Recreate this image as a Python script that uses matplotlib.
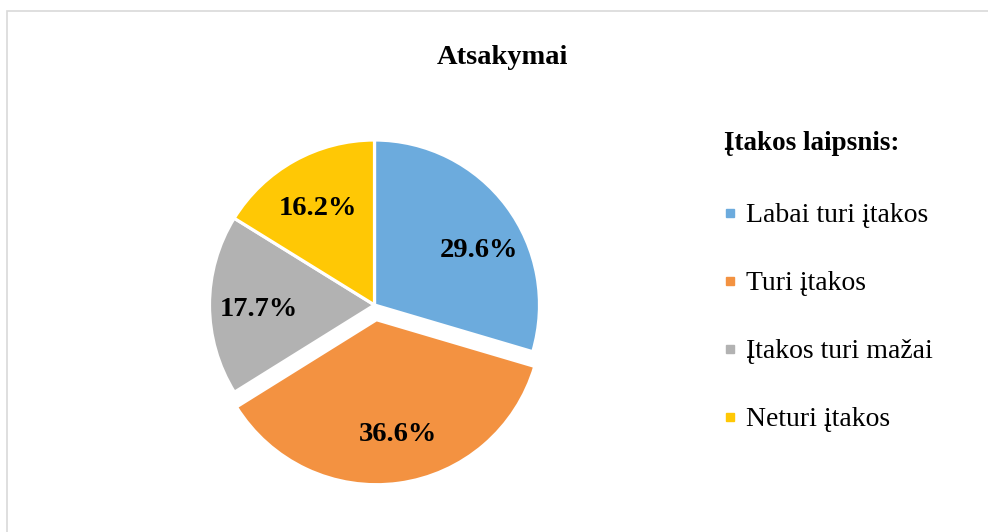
import matplotlib
matplotlib.use("Agg")
import matplotlib.pyplot as plt
from matplotlib.lines import Line2D
from matplotlib.patches import Rectangle

title = "Atsakymai"
legend_title = "Įtakos laipsnis:"
categories = ["Labai turi įtakos", "Turi įtakos", "Įtakos turi mažai", "Neturi įtakos"]
values = [29.6, 36.6, 17.7, 16.2]
colors = ["#6CABDD", "#F39241", "#B2B2B2", "#FFC805"]
explode = [0, 0.09, 0, 0]

plt.rcParams['font.family'] = ['Liberation Serif', 'DejaVu Serif']

W, H = 988, 532
fig = plt.figure(figsize=(W / 100, H / 100), dpi=100)
fig.patch.set_facecolor("white")

# outer border (chart area), extends beyond right/bottom edges
fig.add_artist(Rectangle((7 / W, -0.1), 1.2, (H - 11) / H + 0.1, transform=fig.transFigure,
                         fill=False, edgecolor="#D9D9D9", linewidth=1.2))

R = 165
cx, cy = 374.5, H - 305
side = 2.4 * R
ax = fig.add_axes([(cx - side / 2) / W, (cy - side / 2) / H, side / W, side / H])
wedges, texts, autotexts = ax.pie(values, colors=colors, explode=explode, startangle=90,
                                  counterclock=False, autopct="%.1f%%", pctdistance=0.7,
                                  wedgeprops=dict(edgecolor="white", linewidth=2.3),
                                  textprops=dict(fontsize=20.5, fontweight="bold", color="black"))
ax.set_xlim(-1.2, 1.2)
ax.set_ylim(-1.2, 1.2)
ax.set_aspect("equal")
# Excel best-fit placement of labels (slight nudges)
autotexts[0].set_position((0.63, 0.33))
x, y = autotexts[1].get_position()
autotexts[1].set_position((x + 0.035, y))
for t in autotexts[2:]:
    x, y = t.get_position()
    t.set_position((x, y - 0.025))

fig.text(502 / W, (H - 58) / H, title, ha="center", va="center", fontsize=20.5, fontweight="bold")

fig.text(724 / W, (H - 143) / H, legend_title, ha="left", va="center", fontsize=19.5,
         fontweight="bold")

handles = [Line2D([0], [0], linestyle="none", marker="s", markersize=6, markerfacecolor=c,
                  markeredgecolor=c) for c in colors]
leg = fig.legend(handles, categories, loc="upper left",
                 bbox_to_anchor=(722 / W, (H - 203) / H), frameon=False, fontsize=20,
                 handlelength=0.6, handletextpad=0.25, labelspacing=1.53, borderpad=0,
                 borderaxespad=0)

fig.savefig("out.png", dpi=100, facecolor="white")
